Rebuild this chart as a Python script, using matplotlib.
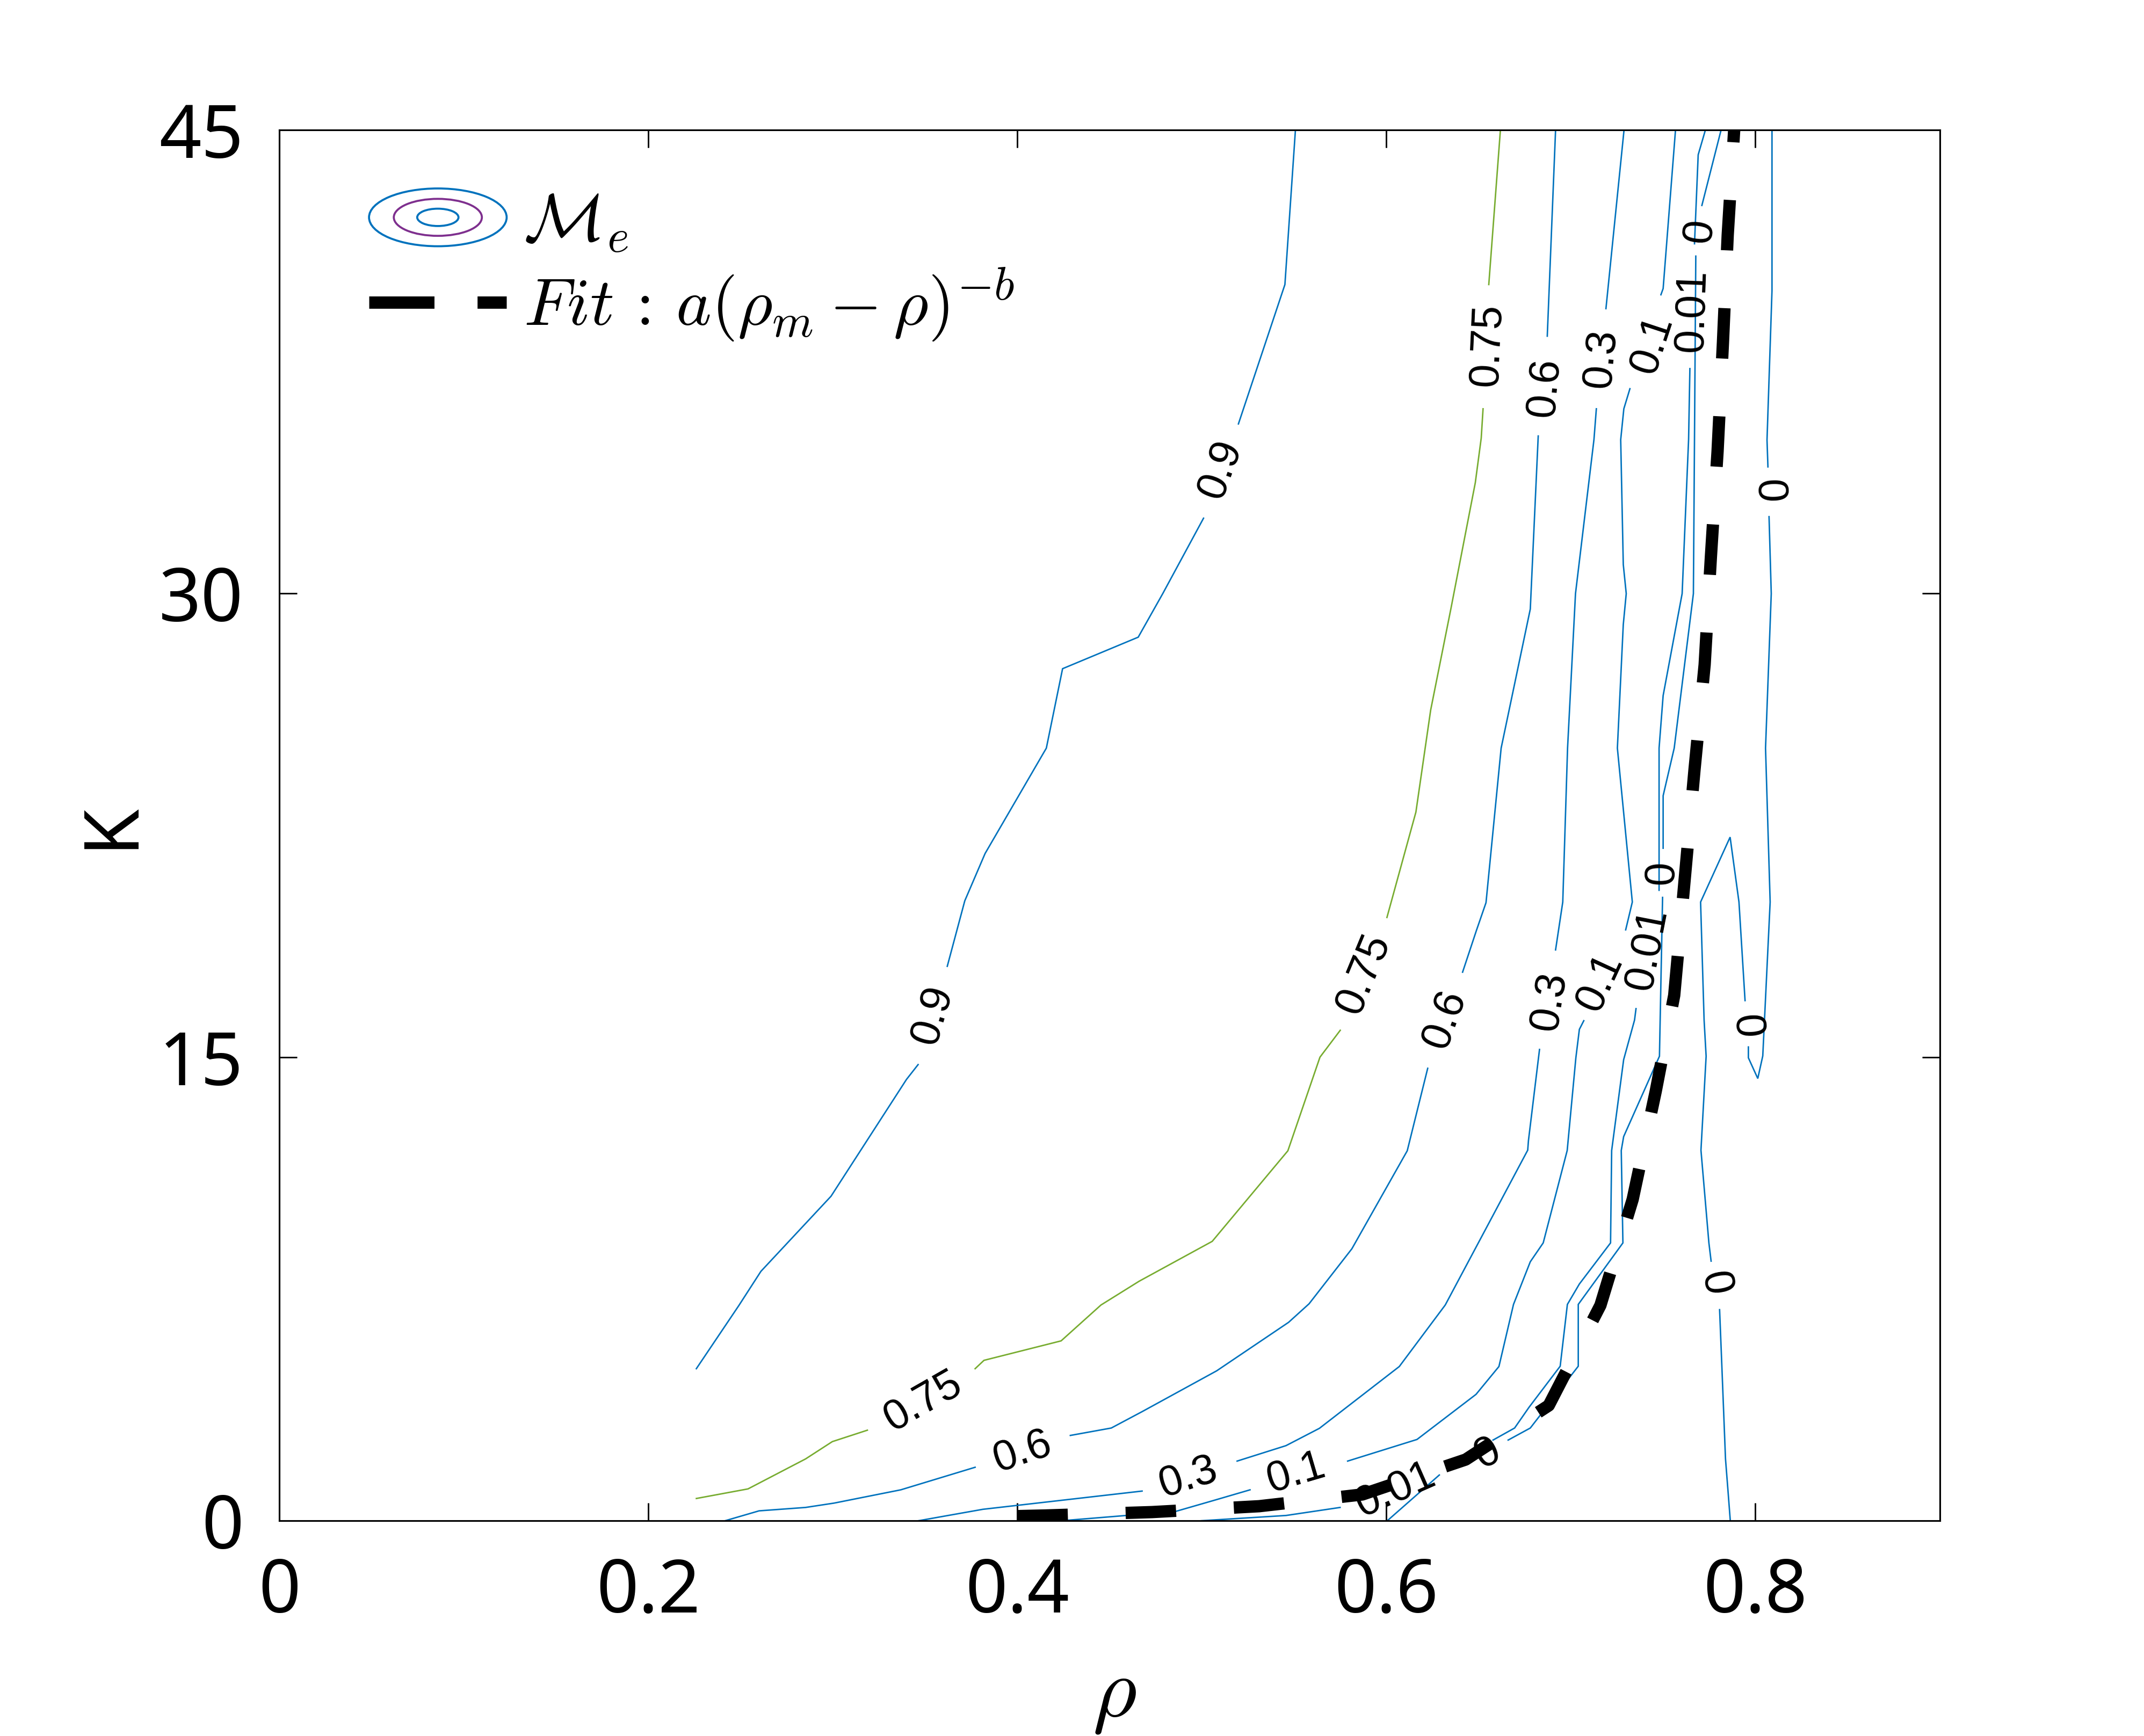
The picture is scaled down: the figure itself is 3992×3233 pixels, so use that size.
import numpy as np
import matplotlib
matplotlib.use("Agg")
import matplotlib.pyplot as plt
from matplotlib.patches import Ellipse
from matplotlib.legend_handler import HandlerBase
from matplotlib.lines import Line2D

plt.rcParams['mathtext.fontset'] = 'cm'

# Contour lines of M_e as (rho, K) vertices.
# Each level is a list of visible pieces (the gaps are where the inline labels sit).
SEG_090 = [
    [(0.226, 4.92), (0.249, 6.96), (0.261, 8.07), (0.299, 10.5), (0.3399, 14.28), (0.3462, 14.76)],
    [(0.362, 17.94), (0.3715, 20.06), (0.3825, 21.59), (0.4157, 25.0), (0.4245, 27.57),
     (0.4655, 28.59), (0.4788, 30.0), (0.5009, 32.44)],
    [(0.5198, 35.49), (0.545, 40.0), (0.5507, 45.0)],
]
LAB_090 = [(0.3541, 16.36), (0.5103, 34.03)]

SEG_075 = [
    [(0.226, 0.72), (0.254, 1.03), (0.2852, 2.0), (0.2997, 2.56), (0.3187, 2.93)],
    [(0.3771, 4.92), (0.3819, 5.19), (0.4237, 5.82), (0.4453, 6.98), (0.466, 7.75), (0.5056, 9.04),
     (0.5466, 11.97), (0.564, 15.0), (0.575, 15.87)],
    [(0.6003, 19.52), (0.616, 22.93), (0.624, 26.23), (0.635, 29.52), (0.6482, 33.59),
     (0.6514, 35.03), (0.6524, 35.98)],
    [(0.6555, 40.0), (0.6618, 45.0)],
]
LAB_075 = [(0.349, 3.86), (0.5877, 17.7), (0.6549, 38.05)]

SEG_060 = [
    [(0.2416, 0.0), (0.26, 0.32), (0.2852, 0.43), (0.3006, 0.57), (0.3368, 1.0), (0.3771, 1.73)],
    [(0.4287, 2.76), (0.4509, 3.0), (0.4676, 3.53), (0.508, 4.85), (0.547, 6.42), (0.5581, 7.02),
     (0.5813, 8.8), (0.6113, 11.97), (0.6224, 14.64)],
    [(0.6413, 17.75), (0.6488, 19.1), (0.654, 20.0), (0.6622, 25.0), (0.678, 29.5), (0.6823, 35.1)],
    [(0.6872, 38.33), (0.6917, 45.0)],
]
LAB_060 = [(0.403, 2.22), (0.6318, 16.24), (0.6859, 36.68)]

SEG_030 = [
    [(0.3464, 0.0), (0.3813, 0.37), (0.4676, 0.96)],
    [(0.5191, 1.93), (0.5456, 2.43), (0.5637, 2.99), (0.607, 4.99), (0.6319, 6.98),
     (0.6766, 11.99), (0.677, 12.3), (0.683, 15.25)],
    [(0.6917, 18.47), (0.6956, 20.02), (0.6982, 25.0), (0.7025, 30.0), (0.7125, 34.98),
     (0.7138, 35.98)],
    [(0.719, 39.22), (0.7288, 45.0)],
]
LAB_030 = [(0.4927, 1.40), (0.6885, 16.82), (0.7164, 37.62)]

SEG_010 = [
    [(0.424, 0.0), (0.4857, 0.30), (0.5066, 0.66), (0.5261, 1.0)],
    [(0.579, 1.93), (0.6166, 2.63), (0.6486, 4.09), (0.661, 4.99), (0.6689, 7.0), (0.678, 8.38),
     (0.685, 8.99), (0.698, 11.98), (0.7027, 14.98), (0.7046, 15.9), (0.707, 16.18)],
    [(0.7297, 19.12), (0.7333, 20.02), (0.7252, 25.0), (0.7284, 29.0), (0.730, 30.0),
     (0.7284, 30.94), (0.727, 34.98), (0.7287, 35.98), (0.732, 36.63)],
    [(0.7488, 39.67), (0.750, 39.87), (0.7567, 45.0)],
]
LAB_010 = [(0.5512, 1.53), (0.716, 17.43), (0.7442, 38.07)]

SEG_001 = [
    [(0.4997, 0.0), (0.5456, 0.17), (0.5749, 0.43)],
    [(0.6578, 2.61), (0.6695, 3.0), (0.6773, 3.67), (0.6942, 5.0), (0.6981, 7.0), (0.7046, 7.66),
     (0.7215, 8.99), (0.7221, 11.98), (0.7286, 14.92), (0.7345, 16.2), (0.7353, 16.57)],
    [(0.7478, 20.4), (0.7478, 25.0), (0.750, 26.7), (0.7603, 30.0), (0.7638, 34.99), (0.7645, 37.28)],
    [(0.767, 41.32), (0.769, 44.2), (0.7729, 45.0)],
]
LAB_001 = [(0.605, 0.98), (0.7415, 18.5), (0.766, 39.16)]

SEG_000 = [
    [(0.6005, 0.0), (0.6287, 1.48)],
    [(0.666, 2.61), (0.678, 3.0), (0.704, 5.0), (0.704, 7.0), (0.7282, 8.99), (0.7273, 11.98),
     (0.7286, 12.43), (0.748, 15.03), (0.7497, 20.17)],
    [(0.750, 21.76), (0.750, 23.46), (0.756, 25.0), (0.7664, 30.0), (0.7677, 40.92)],
    [(0.771, 42.56), (0.7814, 45.0)],
    [(0.809, 45.0), (0.809, 39.8), (0.8063, 34.97), (0.8068, 34.1)],
    [(0.8074, 32.49), (0.8086, 30.0), (0.8055, 25.0), (0.808, 20.02), (0.804, 15.04),
     (0.8013, 14.31), (0.7962, 14.98), (0.7962, 15.33)],
    [(0.7944, 16.83), (0.7911, 20.02), (0.7863, 22.12), (0.7703, 20.02), (0.7722, 16.2),
     (0.7733, 15.03), (0.7705, 11.99), (0.7748, 8.99), (0.776, 8.4)],
    [(0.7806, 6.83), (0.7819, 4.89), (0.7838, 2.0), (0.7851, 1.01), (0.7864, 0.0)],
]
LAB_000 = [(0.655, 2.18), (0.7495, 20.97), (0.770, 41.75), (0.8068, 33.3), (0.7949, 15.97), (0.778, 7.66)]

LEVELS = [0.9, 0.75, 0.6, 0.3, 0.1, 0.01, 0]
LEVEL_TEXT = ['0.9', '0.75', '0.6', '0.3', '0.1', '0.01', '0']

# fitted curve K = a (rho_m - rho)^-b
FIT_RHO = [0.400, 0.415, 0.473, 0.531, 0.587, 0.643, 0.688, 0.716, 0.7335, 0.746, 0.756,
           0.7616, 0.767, 0.7725, 0.7759, 0.7795, 0.7824, 0.785, 0.7885]
FIT_K = [0.15, 0.17, 0.28, 0.47, 0.85, 1.98, 3.73, 6.97, 10.4, 13.9, 17.0,
         20.7, 24.3, 27.7, 31.2, 34.6, 38.1, 41.6, 45.0]

X_TICKS = [0, 0.2, 0.4, 0.6, 0.8]
X_TICK_LABELS = ['0', '0.2', '0.4', '0.6', '0.8']
Y_TICKS = [0, 15, 30, 45]
Y_TICK_LABELS = ['0', '15', '30', '45']

BLUE = '#0072BD'
GREEN = '#77AC30'
PURPLE = '#7E2F8E'

pieces_by_level = dict(zip(LEVELS, [SEG_090, SEG_075, SEG_060, SEG_030, SEG_010, SEG_001, SEG_000]))
labels_by_level = dict(zip(LEVELS, [LAB_090, LAB_075, LAB_060, LAB_030, LAB_010, LAB_001, LAB_000]))
color_by_level = {lev: (GREEN if lev == 0.75 else BLUE) for lev in LEVELS}


class ContourIconHandler(HandlerBase):
    # three nested ellipses, like the MATLAB contour legend icon
    def create_artists(self, legend, orig_handle, xdescent, ydescent, width, height, fontsize, trans):
        cx = 0.5 * width - xdescent
        cy = 0.5 * height - ydescent
        out = []
        for s, c in zip((1.0, 0.64, 0.30), (BLUE, PURPLE, BLUE)):
            out.append(Ellipse((cx, cy), width * s, 0.42 * width * s, fill=False,
                               edgecolor=c, lw=0.9, transform=trans))
        return out


def label_angle(ax, pos, pieces):
    # direction between the two piece ends closest to the label, on screen
    ends = []
    for p in pieces:
        ends += [p[0], p[-1]]
    ends = ax.transData.transform(np.array(ends))
    c = ax.transData.transform(np.array([pos]))[0]
    order = np.argsort(np.hypot(*(ends - c).T))
    (x0, y0), (x1, y1) = ends[order[0]], ends[order[1]]
    ang = np.degrees(np.arctan2(y1 - y0, x1 - x0))
    if ang > 90:
        ang -= 180
    elif ang <= -90:
        ang += 180
    return ang


fig = plt.figure(figsize=(3992 / 300, 3233 / 300), dpi=300)
ax = fig.add_axes([0.1303, 0.1240, 0.7745, 0.8011])
ax.set_xlim(0, 0.9)
ax.set_ylim(0, 45)

for lev, txt in zip(LEVELS, LEVEL_TEXT):
    pieces = pieces_by_level[lev]
    for p in pieces:
        p = np.array(p)
        ax.plot(p[:, 0], p[:, 1], color=color_by_level[lev], lw=0.65, zorder=2,
                solid_joinstyle='miter')
    for pos in labels_by_level[lev]:
        ax.text(pos[0], pos[1], txt, rotation=label_angle(ax, pos, pieces),
                ha='center', va='center', rotation_mode='anchor',
                fontsize=19, family='Liberation Sans', zorder=3)

fit_line, = ax.plot(FIT_RHO, FIT_K, color='black', lw=5.5, dashes=(4.1, 4.7), zorder=4)

ax.set_xticks(X_TICKS)
ax.set_xticklabels(X_TICK_LABELS, family='Noto Sans')
ax.set_yticks(Y_TICKS)
ax.set_yticklabels(Y_TICK_LABELS, family='Noto Sans')
ax.tick_params(direction='in', length=8, width=0.7, top=True, right=True, labelsize=33, pad=16)
for sp in ax.spines.values():
    sp.set_linewidth(0.75)

ax.set_xlabel(r'$\rho$', fontsize=38)
ax.xaxis.set_label_coords(0.503, -0.095)
ax.set_ylabel('K', fontsize=34, family='Noto Sans')
ax.yaxis.set_label_coords(-0.078, 0.5)

contour_proxy = Line2D([], [], color=BLUE)
fit_proxy = Line2D([], [], color='black', lw=5.5, dashes=(5.3, 3.5))
ax.legend([contour_proxy, fit_proxy],
          [r'$\mathcal{M}_e$', r'$Fit\,:\,a(\rho_m - \rho)^{-b}$'],
          handler_map={contour_proxy: ContourIconHandler()},
          loc='upper left', bbox_to_anchor=(0.054, 0.957), borderaxespad=0, borderpad=0,
          frameon=False, fontsize=30, handlelength=2.05, handletextpad=0.25, labelspacing=0.17)

fig.savefig('out.png', dpi=300)
